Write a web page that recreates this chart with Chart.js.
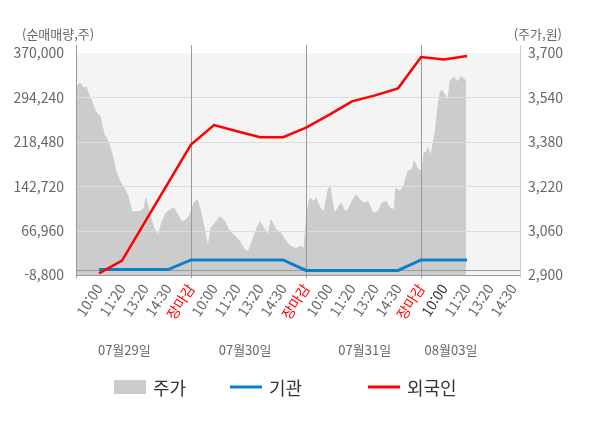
<!DOCTYPE html>
<html lang="ko">
<head>
<meta charset="utf-8">
<script src="https://cdn.jsdelivr.net/npm/chart.js@4.4.1/dist/chart.umd.min.js"></script>
<style>
  html, body { margin: 0; padding: 0; background: #fff; }
  #wrap { width: 600px; height: 428px; }
</style>
</head>
<body>
<div id="wrap"><canvas id="chart"></canvas></div>
<script>
// x axis is in "slots": 0 = day open, 1..4 = 10:00 / 11:20 / 13:20 / 14:30, 5 = close (= next day open)
const timeLabels = ['', '10:00', '11:20', '13:20', '14:30', '장마감',
  '10:00', '11:20', '13:20', '14:30', '장마감',
  '10:00', '11:20', '13:20', '14:30', '장마감',
  '10:00', '11:20', '13:20', '14:30'];
const dayLabels = ['07월29일', '07월30일', '07월31일', '08월03일'];

const volumeTicks = [-8800, 66960, 142720, 218480, 294240, 370000];
const priceTicks = [2900, 3060, 3220, 3380, 3540, 3700];

// 주가 (intraday price)
const priceSlots = [0, 0.17, 0.35, 0.43, 0.52, 0.70, 0.87, 1.04, 1.22, 1.39,
  1.57, 1.74, 1.91, 2.09, 2.26, 2.43, 2.61, 2.78, 2.96, 3.04,
  3.22, 3.39, 3.57, 3.74, 3.91, 4.09, 4.26, 4.43, 4.61, 4.78,
  4.96, 5.13, 5.26, 5.39, 5.57, 5.74, 5.87, 6.09, 6.26, 6.43,
  6.61, 6.78, 6.96, 7.13, 7.30, 7.48, 7.65, 7.83, 8.00, 8.17,
  8.35, 8.48, 8.70, 8.87, 9.04, 9.22, 9.39, 9.57, 9.74, 9.91,
  10.04, 10.17, 10.35, 10.43, 10.61, 10.78, 10.96, 11.04, 11.22, 11.39,
  11.52, 11.70, 11.83, 12.00, 12.17, 12.35, 12.52, 12.70, 12.87, 12.96,
  13.13, 13.30, 13.48, 13.65, 13.83, 13.91, 14.09, 14.26, 14.43, 14.61,
  14.70, 14.87, 15.04, 15.13, 15.22, 15.30, 15.39, 15.48, 15.61, 15.74,
  15.83, 15.91, 16.09, 16.17, 16.26, 16.43, 16.61, 16.70, 16.87, 16.96];
const prices = [3577, 3592, 3571, 3579, 3559, 3523, 3486, 3474, 3407, 3383,
  3335, 3274, 3237, 3213, 3183, 3128, 3128, 3128, 3141, 3177,
  3116, 3068, 3044, 3092, 3123, 3135, 3141, 3116, 3092, 3098,
  3116, 3159, 3171, 3141, 3068, 3001, 3068, 3092, 3110, 3098,
  3068, 3050, 3037, 3019, 2995, 2983, 3019, 3062, 3092, 3068,
  3044, 3098, 3062, 3056, 3032, 3013, 3001, 2995, 3004, 2995,
  3123, 3177, 3165, 3177, 3141, 3128, 3207, 3219, 3123, 3141,
  3159, 3128, 3135, 3165, 3189, 3171, 3159, 3165, 3128, 3123,
  3128, 3159, 3165, 3141, 3135, 3213, 3201, 3225, 3274, 3280,
  3310, 3280, 3274, 3341, 3341, 3359, 3328, 3353, 3413, 3510,
  3559, 3565, 3541, 3528, 3601, 3613, 3595, 3613, 3607, 3595];

// 기관 / 외국인 cumulative net volume
const flowSlots = [1, 2, 3, 4, 5, 6, 7, 8, 9, 10, 11, 12, 13, 14, 15, 16, 17];
const institution = [500, 500, 500, 500, 17000, 17000, 17000, 17000, 17000,
  -1000, -1000, -1000, -1000, -1000, 17000, 17000, 17000];
const foreign = [-6000, 15800, 81800, 147800, 213800, 247100, 236600, 226400, 226400,
  242600, 264300, 287400, 297700, 309700, 363100, 359000, 364800];

// layout
const FONT = "'Noto Sans CJK KR', 'Noto Sans', sans-serif";
const dayLabelAt = [2.1, 7.35, 12.55, 16.3];
const legendX = [114, 230, 368];
const legendY = 387;

Chart.defaults.font.family = FONT;
Chart.defaults.color = '#666';
Chart.defaults.animation = false;

const fixTicks = values => scale => { scale.ticks = values.map(v => ({ value: v })); };
const daySplits = timeLabels.map((t, i) => (i === 0 || t === '장마감') ? i : null).filter(v => v !== null);

function tickColor(i) {
  if (timeLabels[i] === '장마감') return '#ff0000';
  if (i === 16) return '#333';
  return '#666';
}

function line(ctx, x1, y1, x2, y2) {
  ctx.beginPath();
  ctx.moveTo(x1, y1);
  ctx.lineTo(x2, y2);
  ctx.stroke();
}

const decor = {
  id: 'decor',
  beforeDraw(chart) {
    const { ctx, chartArea: a } = chart;
    ctx.save();
    ctx.fillStyle = '#f4f4f4';
    ctx.fillRect(a.left, a.top, a.right - a.left, a.bottom - a.top);
    ctx.restore();
  },
  afterDatasetDraw(chart, args) {
    if (args.index !== 0) return;
    const { ctx, chartArea: a, scales: { x, yL } } = chart;
    ctx.save();
    ctx.lineWidth = 1;
    ctx.strokeStyle = '#dddddd';
    yL.ticks.forEach(t => {
      if (t.value === yL.min || t.value === yL.max) return;
      const y = Math.round(yL.getPixelForValue(t.value)) + 0.5;
      line(ctx, a.left, y, a.right, y);
    });
    ctx.strokeStyle = '#999999';
    const y0 = Math.round(yL.getPixelForValue(0)) + 0.5;
    line(ctx, a.left, y0, a.right, y0);
    line(ctx, a.left, a.bottom + 0.5, a.right, a.bottom + 0.5);
    daySplits.forEach(v => {
      const px = Math.round(x.getPixelForValue(v)) + 0.5;
      line(ctx, px, a.top - 8, px, a.bottom + 3);
    });
    ctx.strokeStyle = '#cccccc';
    line(ctx, a.right + 0.5, a.top - 8, a.right + 0.5, a.bottom + 3);
    ctx.restore();
  },
  afterDraw(chart) {
    const { ctx } = chart;
    ctx.save();
    ctx.font = '13px ' + FONT;
    ctx.fillStyle = '#666';
    ctx.textBaseline = 'middle';
    ctx.textAlign = 'left';
    ctx.fillText('(순매매량,주)', 22, 34);
    ctx.textAlign = 'right';
    ctx.fillText('(주가,원)', 562, 34);

    ctx.textAlign = 'left';
    ctx.font = '18px ' + FONT;
    chart.data.datasets.forEach((ds, i) => {
      const x0 = legendX[i];
      if (ds.fill) {
        ctx.fillStyle = ds.backgroundColor;
        ctx.fillRect(x0, legendY - 7, 32, 14);
      } else {
        ctx.strokeStyle = ds.borderColor;
        ctx.lineWidth = 3;
        line(ctx, x0, legendY, x0 + 32, legendY);
      }
      ctx.fillStyle = '#333';
      ctx.fillText(ds.label, x0 + 39, legendY + 1);
    });
    ctx.restore();
  }
};

const ctx = document.querySelector('#chart');

const config = {
  type: 'line',
  data: {
    datasets: [
      {
        label: '주가',
        data: priceSlots.map((x, i) => ({ x: x, y: prices[i] })),
        yAxisID: 'yR',
        xAxisID: 'x',
        backgroundColor: '#cccccc',
        borderColor: '#cccccc',
        borderWidth: 1,
        pointRadius: 0,
        fill: 'start',
        order: 3,
      },
      {
        label: '기관',
        data: flowSlots.map((x, i) => ({ x: x, y: institution[i] })),
        yAxisID: 'yL',
        xAxisID: 'x',
        borderColor: '#0a7fd0',
        borderWidth: 3,
        pointRadius: 0,
        fill: false,
        order: 2,
      },
      {
        label: '외국인',
        data: flowSlots.map((x, i) => ({ x: x, y: foreign[i] })),
        yAxisID: 'yL',
        xAxisID: 'x',
        borderColor: '#ff0000',
        borderWidth: 2.5,
        pointRadius: 0,
        fill: false,
        order: 1,
      },
    ],
  },
  options: {
    responsive: true,
    maintainAspectRatio: false,
    layout: { padding: { top: 53, bottom: 61, left: 0, right: 0 } },
    plugins: {
      legend: { display: false },
      tooltip: { enabled: false },
    },
    scales: {
      x: {
        type: 'linear',
        position: 'bottom',
        min: 0,
        max: 19.3,
        weight: 0,
        afterBuildTicks: scale => { scale.ticks = timeLabels.map((_, i) => ({ value: i })); },
        afterFit: scale => { scale.height = 62; },
        grid: { display: false, drawTicks: false },
        border: { display: false },
        ticks: {
          autoSkip: false,
          maxRotation: 57,
          minRotation: 57,
          padding: 6,
          font: { size: 14 },
          color: c => tickColor(c.index),
          callback: v => timeLabels[v],
        },
      },
      x2: {
        type: 'linear',
        position: 'bottom',
        min: 0,
        max: 19.3,
        weight: 1,
        afterBuildTicks: scale => { scale.ticks = dayLabelAt.map(v => ({ value: v })); },
        afterFit: scale => { scale.height = 30; },
        grid: { display: false, drawTicks: false },
        border: { display: false },
        ticks: {
          autoSkip: false,
          maxRotation: 0,
          padding: 5,
          font: { size: 13 },
          color: '#666',
          callback: (v, i) => dayLabels[i],
        },
      },
      yL: {
        type: 'linear',
        position: 'left',
        min: -8800,
        max: 370000,
        afterBuildTicks: fixTicks(volumeTicks),
        afterFit: scale => { scale.width = 76; },
        grid: { display: false, drawTicks: false },
        border: { display: false },
        ticks: {
          padding: 12,
          font: { size: 14 },
          color: '#666',
          callback: v => v.toLocaleString('en-US'),
        },
      },
      yR: {
        type: 'linear',
        position: 'right',
        min: 2900,
        max: 3700,
        afterBuildTicks: fixTicks(priceTicks),
        afterFit: scale => { scale.width = 80; },
        grid: { display: false, drawTicks: false },
        border: { display: false },
        ticks: {
          padding: 8,
          font: { size: 14 },
          color: '#666',
          callback: v => v.toLocaleString('en-US'),
        },
      },
    },
  },
  plugins: [decor],
};

const myChart = new Chart(ctx, config);
</script>
</body>
</html>
